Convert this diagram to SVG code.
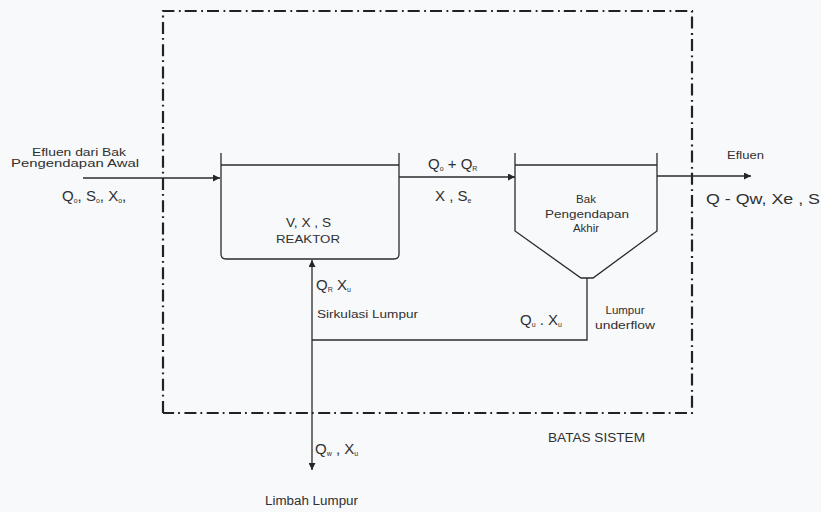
<svg xmlns="http://www.w3.org/2000/svg" width="821" height="512" viewBox="0 0 821 512">
<defs>
<marker id="ah" viewBox="0 0 10 10" refX="10" refY="5" markerWidth="8" markerHeight="7" markerUnits="userSpaceOnUse" orient="auto">
<path d="M0,0 L10,5 L0,10 z" fill="#262626"/>
</marker>
<style>
text{font-family:"Liberation Sans",Arial,sans-serif;fill:#303030}
.ln{fill:none;stroke:#2b2b2b;stroke-width:1.3}
.bd{fill:none;stroke:#222;stroke-width:2.2;stroke-dasharray:12 4.5 1.8 4}
.s{font-size:11.5px}
.m{font-size:15px}
.sub{font-size:7px}
</style>
</defs>
<rect width="821" height="512" fill="#f8f9fb"/>
<g id="batas">
<path class="bd" d="M163,413 V11 H692 V413 H163"/>
<text class="s" x="548" y="442" textLength="97" lengthAdjust="spacingAndGlyphs" style="font-size:12px">BATAS SISTEM</text>
</g>
<g id="reaktor">
<path class="ln" d="M221,153 V254 Q221,259 226,259 H394 Q399,259 399,254 V153"/>
<path class="ln" d="M221,165 H399"/>
<text class="s" x="286" y="227" textLength="45" lengthAdjust="spacingAndGlyphs" style="font-size:12px">V, X , S</text>
<text class="s" x="276" y="243" textLength="64" lengthAdjust="spacingAndGlyphs">REAKTOR</text>
</g>
<g id="bak-pengendapan">
<path class="ln" d="M515,153 V231 L581,278 H593 L657,231 V153"/>
<path class="ln" d="M515,165 H657"/>
<text class="s" x="586" y="203" text-anchor="middle">Bak</text>
<text class="s" x="545" y="218" textLength="84" lengthAdjust="spacingAndGlyphs">Pengendapan</text>
<text class="s" x="586" y="232" text-anchor="middle">Akhir</text>
</g>
<g id="input">
<text class="s" x="32" y="156" textLength="94" lengthAdjust="spacingAndGlyphs">Efluen dari Bak</text>
<text class="s" x="11" y="167" textLength="128" lengthAdjust="spacingAndGlyphs">Pengendapan Awal</text>
<text class="m" x="62" y="201">Q<tspan class="sub" dy="2">o</tspan><tspan dy="-2">, S</tspan><tspan class="sub" dy="2">o</tspan><tspan dy="-2">, X</tspan><tspan class="sub" dy="2">o</tspan><tspan dy="-2">,</tspan></text>
</g>
<g id="efluen">
<text class="s" x="727" y="159" textLength="37" lengthAdjust="spacingAndGlyphs" style="font-size:10.5px">Efluen</text>
<text class="m" x="706" y="204" textLength="114" lengthAdjust="spacingAndGlyphs">Q - Qw, Xe , S</text>
</g>
<g id="lumpur-underflow">
<text class="s" x="625" y="314" text-anchor="middle">Lumpur</text>
<text class="s" x="595" y="329" textLength="60" lengthAdjust="spacingAndGlyphs">underflow</text>
<text class="m" x="520" y="325">Q<tspan class="sub" dy="2">u</tspan><tspan dy="-2"> . X</tspan><tspan class="sub" dy="2">u</tspan></text>
</g>
<g id="sirkulasi">
<text class="m" x="316" y="290">Q<tspan class="sub" dy="2">R</tspan><tspan dy="-2">  X</tspan><tspan class="sub" dy="2">u</tspan></text>
<text class="s" x="317" y="318" textLength="101" lengthAdjust="spacingAndGlyphs">Sirkulasi Lumpur</text>
</g>
<g id="limbah">
<text class="m" x="315" y="454">Q<tspan class="sub" dy="2">w</tspan><tspan dy="-2"> , X</tspan><tspan class="sub" dy="2">u</tspan></text>
<text class="s" x="265" y="505" textLength="93" lengthAdjust="spacingAndGlyphs" style="font-size:12px">Limbah Lumpur</text>
</g>
<g id="aliran">
<text class="m" x="428" y="169">Q<tspan class="sub" dy="2">o</tspan><tspan dy="-2"> + Q</tspan><tspan class="sub" dy="2">R</tspan></text>
<text class="m" x="435" y="201">X , S<tspan class="sub" dy="2">e</tspan></text>
</g>
<g id="connectors">
<path class="ln" d="M83,178 H220" marker-end="url(#ah)"/>
<path class="ln" d="M399,177 H515" marker-end="url(#ah)"/>
<path class="ln" d="M657,176 H751" marker-end="url(#ah)"/>
<path class="ln" d="M587,278 V340 H312"/>
<path class="ln" d="M312,340 V260" marker-end="url(#ah)"/>
<path class="ln" d="M312,340 V470" marker-end="url(#ah)"/>
</g>
</svg>
